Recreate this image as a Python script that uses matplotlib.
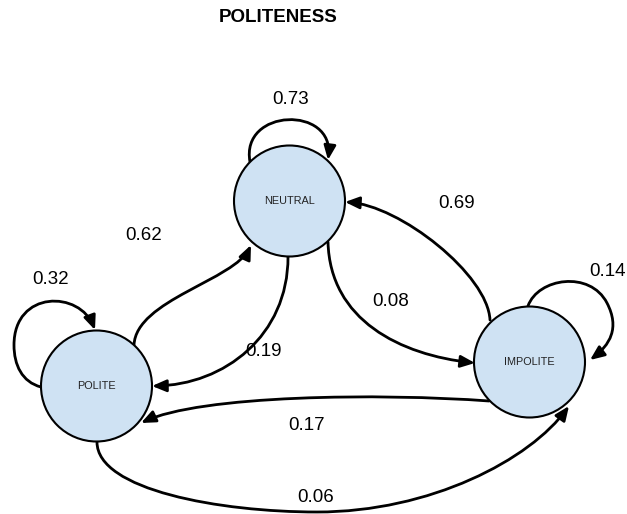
import matplotlib
matplotlib.use("Agg")
import matplotlib.pyplot as plt
from matplotlib.path import Path
from matplotlib.patches import Circle, FancyArrowPatch

plt.rcParams['font.family'] = ['Liberation Sans', 'DejaVu Sans']

# states and transition probabilities
states = ["NEUTRAL", "POLITE", "IMPOLITE"]
sources = ["POLITE", "NEUTRAL", "IMPOLITE", "POLITE", "NEUTRAL", "NEUTRAL", "IMPOLITE", "IMPOLITE", "POLITE"]
targets = ["POLITE", "NEUTRAL", "IMPOLITE", "NEUTRAL", "POLITE", "IMPOLITE", "NEUTRAL", "POLITE", "IMPOLITE"]
probs = [0.32, 0.73, 0.14, 0.62, 0.19, 0.08, 0.69, 0.17, 0.06]
title = "POLITENESS"

# layout (pixel coordinates, y down); edges are cubic bezier control points
centers = {"NEUTRAL": (289.5, 201), "POLITE": (96.5, 386), "IMPOLITE": (529.5, 362)}
radius = 55.5
edge_ctrl = [
    [(41, 387), (22, 382), (14, 365), (14, 345), (14, 290), (80, 290), (95, 330)],
    [(250, 162), (240, 108), (335, 105), (328, 160)],
    [(528, 306), (538, 278), (590, 270), (607, 303), (620, 328), (610, 345), (590, 360)],
    [(134, 345), (136, 300), (235, 280), (251, 245)],
    [(288, 257), (288, 335), (225, 385), (152, 386)],
    [(328, 242), (330, 320), (400, 355), (475, 363)],
    [(490, 320), (488, 275), (400, 205), (345, 202)],
    [(489, 401), (380, 393), (200, 395), (141, 423)],
    [(97, 442), (97, 490), (220, 512), (317, 512), (430, 512), (530, 460), (569, 406)],
]
label_pos = [(51, 279), (291, 99), (608, 272), (144, 235), (263, 352),
             (391, 301), (457, 203), (307, 426), (316, 497)]


def bezier_path(pts):
    codes = [Path.MOVETO] + [Path.CURVE4] * (len(pts) - 1)
    return Path(pts, codes)


fig = plt.figure(figsize=(6.27, 5.14), dpi=100)
ax = fig.add_axes([0, 0, 1, 1])
ax.set_xlim(0, 627)
ax.set_ylim(514, 0)
ax.axis('off')

for pts in edge_ctrl:
    arr = FancyArrowPatch(path=bezier_path(pts),
                          arrowstyle='-|>,head_length=8.5,head_width=3.6',
                          mutation_scale=1, lw=2.0, color='black', zorder=1)
    ax.add_patch(arr)

for s in states:
    ax.add_patch(Circle(centers[s], radius, facecolor='#cfe2f3',
                        edgecolor='black', lw=1.5, zorder=2))
    ax.text(*centers[s], s, ha='center', va='center', fontsize=7.8,
            color='#222222', zorder=3)

for p, (x, y) in zip(probs, label_pos):
    ax.text(x, y, f"{p:.2f}", ha='center', va='center', fontsize=13.5)

ax.text(278, 18, title, ha='center', va='center', fontsize=13.5, fontweight='bold')

fig.savefig('out.png', dpi=100)
